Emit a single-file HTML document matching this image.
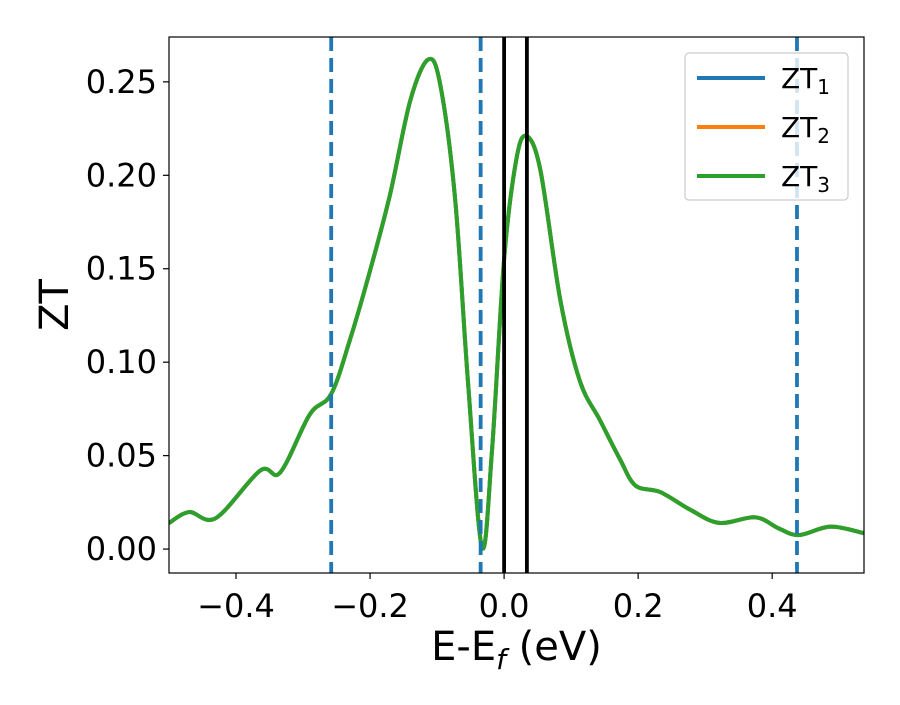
<!DOCTYPE html>
<html><head><meta charset="utf-8"><style>
body{margin:0;background:#fff}
svg text{font-family:"DejaVu Sans","Liberation Sans",sans-serif;fill:#000}
</style></head><body>
<svg id="chart" width="900" height="700" xmlns="http://www.w3.org/2000/svg">
<g id="plot"></g>
</svg>
<script>
const xs=[-0.5,-0.47,-0.43,-0.364,-0.334,-0.29,-0.258,-0.23,-0.2,-0.17,-0.14,-0.113,-0.095,-0.073,-0.054,-0.033,-0.018,0,0.018,0.033,0.054,0.084,0.113,0.143,0.173,0.196,0.233,0.278,0.321,0.375,0.41,0.44,0.487,0.537];
const zt=[0.0139,0.0198,0.0166,0.042,0.041,0.072,0.083,0.112,0.149,0.19,0.24,0.262,0.248,0.187,0.09,0.001,0.053,0.155,0.208,0.221,0.203,0.133,0.09,0.069,0.048,0.034,0.0305,0.021,0.014,0.017,0.011,0.0075,0.012,0.0085];
const dashedX=[-0.258,-0.035,0.437];
const solidX=[0,0.034];
const xTicks=[-0.4,-0.2,0,0.2,0.4];
const xTickLabels=["\u22120.4","\u22120.2","0.0","0.2","0.4"];
const yTicks=[0,0.05,0.1,0.15,0.2,0.25];
const yTickLabels=["0.00","0.05","0.10","0.15","0.20","0.25"];
const seriesNames=["1","2","3"];
const colors=["#1f77b4","#ff7f0e","#2ca02c"];
const L=169,R=864,T=37,B=573,xmin=-0.5,xmax=0.537,ymin=-0.0128,ymax=0.274;
const X=v=>L+(v-xmin)/(xmax-xmin)*(R-L);
const Y=v=>B-(v-ymin)/(ymax-ymin)*(B-T);
const NS="http://www.w3.org/2000/svg";
const g=document.getElementById('plot');
function mk(t,a,p){const e=document.createElementNS(NS,t);for(const k in a)e.setAttribute(k,a[k]);(p||g).appendChild(e);return e;}
const cp=mk('clipPath',{id:'cp'});mk('rect',{x:L,y:T,width:R-L,height:B-T},cp);
const pts=xs.map((x,i)=>[X(x),Y(zt[i])]);
let d=`M${pts[0][0]},${pts[0][1]}`;
for(let i=0;i<pts.length-1;i++){const p0=pts[Math.max(i-1,0)],p1=pts[i],p2=pts[i+1],p3=pts[Math.min(i+2,pts.length-1)];
d+=` C${p1[0]+(p2[0]-p0[0])/6},${p1[1]+(p2[1]-p0[1])/6} ${p2[0]-(p3[0]-p1[0])/6},${p2[1]-(p3[1]-p1[1])/6} ${p2[0]},${p2[1]}`;}
colors.forEach((c,i)=>{const e=mk('path',{d:d,fill:'none',stroke:c,'stroke-width':4,'clip-path':'url(#cp)'});

});
dashedX.forEach(v=>{const e=mk('line',{x1:X(v),x2:X(v),y1:T,y2:B,stroke:'#1f77b4','stroke-width':3.8,'stroke-dasharray':'14,7'});

});
solidX.forEach(v=>{const e=mk('line',{x1:X(v),x2:X(v),y1:T,y2:B,stroke:'#000','stroke-width':3.8});

});
const fr=mk('rect',{x:L,y:T,width:R-L,height:B-T,fill:'none',stroke:'#000','stroke-width':1.2});


xTicks.forEach((v,i)=>{mk('line',{x1:X(v),x2:X(v),y1:B,y2:B+6,stroke:'#000','stroke-width':1.2});
const t=mk('text',{x:X(v),y:B+44,'text-anchor':'middle','font-size':32});t.textContent=xTickLabels[i];

});
yTicks.forEach((v,i)=>{mk('line',{x1:L-6,x2:L,y1:Y(v),y2:Y(v),stroke:'#000','stroke-width':1.2});
const t=mk('text',{x:L-12,y:Y(v)+11,'text-anchor':'end','font-size':32});t.textContent=yTickLabels[i];

});
const xl=mk('text',{x:(L+R)/2,y:660,'text-anchor':'middle','font-size':40});
xl.innerHTML='E-E<tspan font-size="28" dy="9" font-style="italic">f</tspan><tspan dy="-9"> (eV)</tspan>';


const yl=mk('text',{x:68,y:(T+B)/2,'text-anchor':'middle','font-size':40,transform:`rotate(-90 68 ${(T+B)/2})`});
yl.textContent='ZT';


const lg=mk('g',{});


mk('rect',{x:685,y:53,width:163,height:147,rx:4,fill:'#fff','fill-opacity':0.8,stroke:'#ccc','stroke-width':1.2},lg);
seriesNames.forEach((n,i)=>{const y=78+i*49;
mk('line',{x1:697,x2:765,y1:y,y2:y,stroke:colors[i],'stroke-width':4},lg);
const t=mk('text',{x:781,y:y+10,'font-size':28},lg);
t.innerHTML='ZT<tspan font-size="20" dy="6">'+n+'</tspan>';

});
</script>
</body></html>
